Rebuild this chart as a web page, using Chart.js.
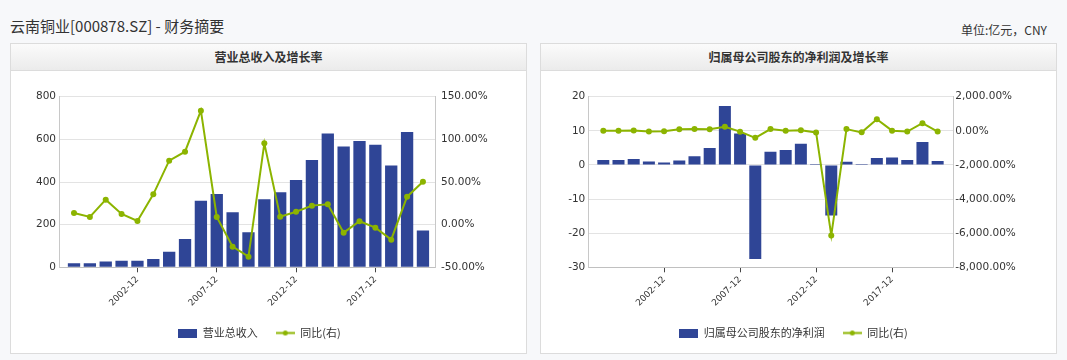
<!DOCTYPE html>
<html><head><meta charset="utf-8">
<script src="https://cdn.jsdelivr.net/npm/chart.js@4.4.1/dist/chart.umd.min.js"></script>
<style>
html,body{margin:0;padding:0;width:1067px;height:360px;background:#f7f8fa;overflow:hidden;font-family:"Noto Sans CJK SC",sans-serif;}
#title{position:absolute;left:10px;top:15px;font-size:15px;color:#333;line-height:22px;white-space:nowrap;}
#unit{position:absolute;right:20px;top:21px;font-size:12px;color:#333;line-height:17px;white-space:nowrap;}
.panel{position:absolute;top:43px;width:515px;height:309px;background:#fff;border:1px solid #dcdcdc;}
.head{height:26px;line-height:26px;text-align:center;font-size:12px;font-weight:bold;color:#333;background:linear-gradient(#fbfbfb,#ebebeb);border-bottom:1px solid #dcdcdc;}
.panel canvas{position:absolute;left:0;top:27px;}
</style></head>
<body>
<div id="title">云南铜业[000878.SZ] - 财务摘要</div>
<div id="unit">单位:亿元，CNY</div>
<div class="panel" style="left:10px"><div class="head">营业总收入及增长率</div><canvas id="c1" width="515" height="282"></canvas></div>
<div class="panel" style="left:540px"><div class="head">归属母公司股东的净利润及增长率</div><canvas id="c2" width="515" height="282"></canvas></div>
<script>
// ---- data ----
const categories = ['1998-12','1999-12','2000-12','2001-12','2002-12','2003-12','2004-12','2005-12','2006-12','2007-12','2008-12','2009-12','2010-12','2011-12','2012-12','2013-12','2014-12','2015-12','2016-12','2017-12','2018-12','2019-12','2020-03'];
const tickIndexes = [4, 9, 14, 19];
const revenue = [19, 19, 27, 31, 31, 39, 73, 133, 312, 344, 258, 164, 319, 352, 409, 503, 627, 566, 592, 575, 477, 634, 173];
const revenueYoY = [13.7, 9.0, 29.3, 12.5, 4.3, 35.5, 75.0, 85.5, 133.6, 9.0, -25.8, -37.5, 95.3, 9.4, 15.2, 22.3, 23.8, -9.4, 4.0, -3.5, -17.6, 32.8, 50.4];
const netProfit = [1.46, 1.46, 1.76, 0.98, 0.68, 1.27, 2.54, 5.0, 17.3, 9.2, -27.6, 3.9, 4.4, 6.2, 0.3, -14.8, 0.9, 0.3, 2.0, 2.2, 1.46, 6.7, 1.17];
const netProfitYoY = [10, 0, 20, -45, -30, 90, 110, 95, 240, -50, -410, 100, 10, 30, -95, -6130, 100, -90, 680, 10, -40, 450, -40];
const revenueTicksLeft = {min: 0, max: 800, step: 200};
const revenueTicksRight = {min: -50, max: 150, step: 50};
const profitTicksLeft = {min: -30, max: 20, step: 10};
const profitTicksRight = {min: -8000, max: 2000, step: 2000};

const BLUE = '#2f4596', GREEN = '#8cb400';
const tickFont = {family: 'DejaVu Sans', size: 10.5};
const xFont = {family: 'DejaVu Sans', size: 9};

function rectIcon(){const c=document.createElement('canvas');c.width=19;c.height=9;const g=c.getContext('2d');g.fillStyle=BLUE;g.fillRect(0,0,19,9);return c;}
function lineIcon(){const c=document.createElement('canvas');c.width=19;c.height=9;const g=c.getContext('2d');g.strokeStyle=GREEN;g.lineWidth=2;g.beginPath();g.moveTo(0,4.5);g.lineTo(19,4.5);g.stroke();g.fillStyle=GREEN;g.beginPath();g.arc(9.5,4.5,2.5,0,Math.PI*2);g.fill();return c;}
const icons = [rectIcon(), lineIcon()];

function pct(v){return Number(v).toLocaleString('en-US',{minimumFractionDigits:2,maximumFractionDigits:2})+'%';}

function makeChart(id, cfg){
  new Chart(document.getElementById(id), {
    type: 'bar',
    data: {
      datasets: [
        {type:'bar', label: cfg.barLabel, data: cfg.bars.map((v,i)=>({x:i,y:v})), backgroundColor: BLUE, borderWidth:0,
         barPercentage: cfg.barPct, categoryPercentage: 1, yAxisID:'y', order:1},
        {type:'line', label:'同比(右)', data: cfg.line.map((v,i)=>({x:i,y:v})), borderColor: GREEN, backgroundColor: GREEN,
         borderWidth:2, pointRadius:3, pointBackgroundColor: GREEN, pointBorderWidth:0, tension:0, yAxisID:'y1', order:0}
      ]
    },
    options: {
      responsive:false, animation:false, devicePixelRatio:1,
      layout:{padding:{top:25.7, bottom:4.5, left:0, right:cfg.padR}},
      plugins:{
        tooltip:{enabled:false},
        legend:{position:'bottom', labels:{
          font:{family:'Noto Sans CJK SC', size:11}, color:'#333', padding:18, usePointStyle:true, pointStyleWidth:19, boxHeight:9,
          sort:(a,b)=>a.datasetIndex-b.datasetIndex,
          generateLabels:(chart)=>{const items=Chart.defaults.plugins.legend.labels.generateLabels(chart);items.forEach(it=>{it.pointStyle=icons[it.datasetIndex];});return items;}
        }}
      },
      scales:{
        x:{type:'linear', min:cfg.xmin, max:cfg.xmax, offset:false,
           grid:{offset:false, drawOnChartArea:false, drawTicks:true, tickLength:5, tickColor:'#444'},
           border:{display:true, color:'#c0c0c0'},
           afterBuildTicks:(s)=>{s.ticks = tickIndexes.map(v=>({value:v}));},
           afterFit:(s)=>{s.height = cfg.xh;},
           ticks:{minRotation:45, maxRotation:45, autoSkip:false, padding:2, font:xFont, color:'#333', callback:(v)=>categories[v]}},
        y:{position:'left', min:cfg.left.min, max:cfg.left.max,
           ticks:{stepSize:cfg.left.step, font:tickFont, color:'#333', padding:3},
           grid:{color:'#e3e3e3', drawTicks:false}, border:{display:true, color:'#c8c8c8'},
           afterFit:(s)=>{s.width = cfg.lw;}},
        y1:{position:'right', min:cfg.right.min, max:cfg.right.max,
           ticks:{stepSize:cfg.right.step, font:tickFont, color:'#333', padding:cfg.rpad, callback:(v)=>pct(v)},
           grid:{drawOnChartArea:false, drawTicks:false}, border:{display:true, color:'#c8c8c8'},
           afterFit:(s)=>{s.width = cfg.rw;}}
      }
    }
  });
}

makeChart('c1', {barLabel:'营业总收入', bars:revenue, line:revenueYoY, left:revenueTicksLeft, right:revenueTicksRight,
  xmin:-0.946, xmax:22.76, barPct:0.776, padR:18, lw:48, rw:73, rpad:6, xh:42.2});
makeChart('c2', {barLabel:'归属母公司股东的净利润', bars:netProfit, line:netProfitYoY, left:profitTicksLeft, right:profitTicksRight,
  xmin:-0.987, xmax:23.03, barPct:0.79, padR:10, lw:47.3, rw:92.7, rpad:2, xh:42.2});
</script>
</body></html>
